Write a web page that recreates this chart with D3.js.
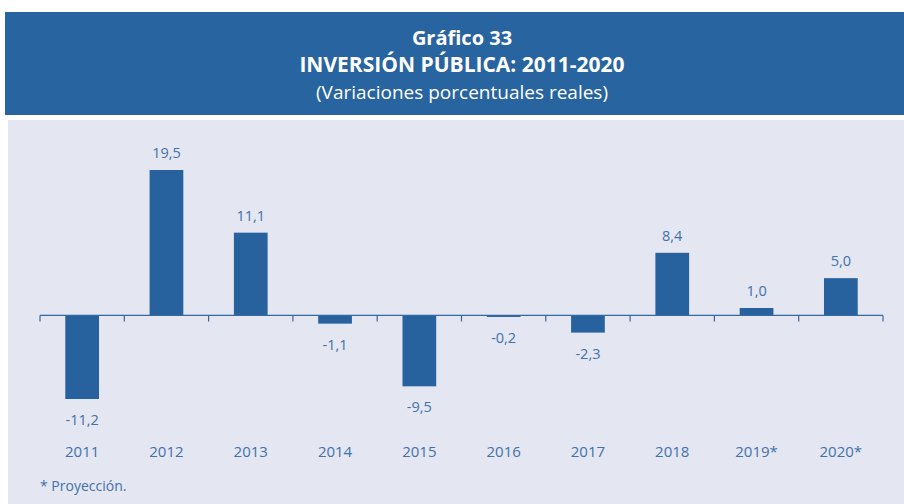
<!DOCTYPE html>
<html>
<head>
<meta charset="utf-8">
<script src="https://cdn.jsdelivr.net/npm/d3@7"></script>
<style>
  body { margin: 0; background: #fff; }
  text { font-family: "Open Sans", sans-serif; }
</style>
</head>
<body>
<div id="chart"></div>
<script>
// Data
const years = ["2011", "2012", "2013", "2014", "2015", "2016", "2017", "2018", "2019*", "2020*"];
const values = [-11.2, 19.5, 11.1, -1.1, -9.5, -0.2, -2.3, 8.4, 1.0, 5.0];
const titleLines = ["Gráfico 33", "INVERSIÓN PÚBLICA: 2011-2020", "(Variaciones porcentuales reales)"];
const footnote = "* Proyección.";

const W = 904, H = 504;
const blue = "#27629f", textBlue = "#4272a9";

const svg = d3.select("#chart")
    .append("svg")
    .attr("width", W)
    .attr("height", H);

// Header band
svg.append("rect")
    .attr("x", 5).attr("y", 12)
    .attr("width", W - 5).attr("height", 103)
    .attr("fill", "#28649f");

// Light panel
svg.append("rect")
    .attr("x", 8).attr("y", 120)
    .attr("width", W - 8).attr("height", H - 120)
    .attr("fill", "#e4e6f1");

// Titles
const tx = 462;
svg.append("text").attr("x", tx).attr("y", 45)
    .attr("text-anchor", "middle").attr("fill", "#fff")
    .attr("font-weight", "bold").attr("font-size", 20)
    .text(titleLines[0]);
svg.append("text").attr("x", tx).attr("y", 72)
    .attr("text-anchor", "middle").attr("fill", "#fff")
    .attr("font-weight", "bold").attr("font-size", 21)
    .text(titleLines[1]);
svg.append("text").attr("x", tx).attr("y", 99)
    .attr("text-anchor", "middle").attr("fill", "#fff")
    .attr("font-size", 19)
    .text(titleLines[2]);

// Scales
const x = d3.scaleBand()
    .domain(years)
    .range([40, 883])
    .paddingInner(0.6)
    .paddingOuter(0.3);

const y = d3.scaleLinear()
    .domain([-11.2, 19.5])
    .range([399, 170]);

const y0 = y(0);

// Bars
svg.selectAll(".bar")
    .data(values)
    .enter()
    .append("rect")
    .attr("class", "bar")
    .attr("x", (d, i) => x(years[i]))
    .attr("width", x.bandwidth())
    .attr("y", d => y(Math.max(0, d)))
    .attr("height", d => Math.abs(y(d) - y0))
    .attr("fill", blue);

// Axis line with ticks between categories
const tickPos = d3.range(years.length + 1).map(i => 40 + i * (843 / years.length));
svg.append("line")
    .attr("x1", 40).attr("x2", 883)
    .attr("y1", y0).attr("y2", y0)
    .attr("stroke", "#3468a5").attr("stroke-width", 1.2);
svg.selectAll(".tick")
    .data(tickPos)
    .enter()
    .append("line")
    .attr("x1", d => d).attr("x2", d => d)
    .attr("y1", y0).attr("y2", y0 + 6)
    .attr("stroke", "#3468a5").attr("stroke-width", 1.2);

// Value labels
const fmt = v => v.toFixed(1).replace(".", ",");
svg.selectAll(".val")
    .data(values)
    .enter()
    .append("text")
    .attr("x", (d, i) => x(years[i]) + x.bandwidth() / 2)
    .attr("y", d => d >= 0 ? y(d) - 12 : y(d) + 26)
    .attr("text-anchor", "middle")
    .attr("font-size", 14.5)
    .attr("fill", textBlue)
    .text(fmt);

// Category labels
svg.selectAll(".cat")
    .data(years)
    .enter()
    .append("text")
    .attr("x", d => x(d) + x.bandwidth() / 2)
    .attr("y", 457)
    .attr("text-anchor", "middle")
    .attr("font-size", 15)
    .attr("fill", textBlue)
    .text(d => d);

// Footnote
svg.append("text")
    .attr("x", 40).attr("y", 491)
    .attr("font-size", 14)
    .attr("fill", textBlue)
    .text(footnote);
</script>
</body>
</html>
